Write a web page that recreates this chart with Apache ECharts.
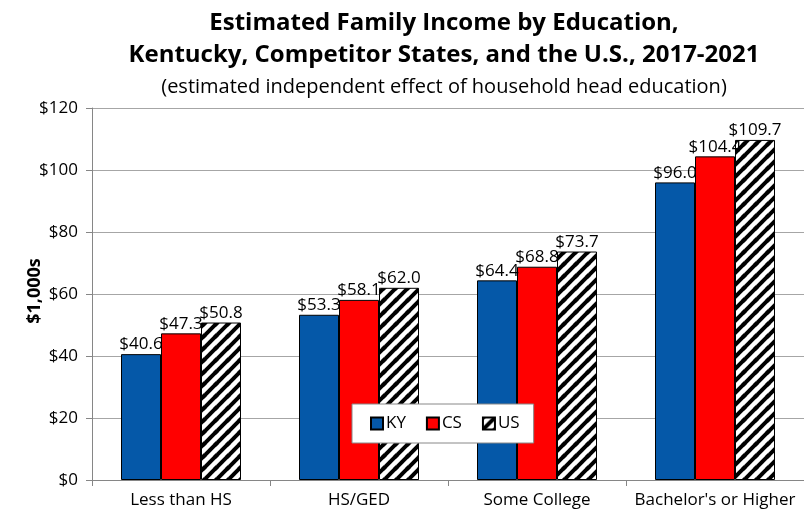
<!DOCTYPE html>
<html><head><meta charset="utf-8">
<script src="https://cdn.jsdelivr.net/npm/echarts@6/dist/echarts.min.js"></script>
<style>html,body{margin:0;padding:0;background:#fff}#c{width:804px;height:525px}</style>
</head><body><div id="c"></div>
<script>
var categories = ["Less than HS", "HS/GED", "Some College", "Bachelor's or Higher"];
var kyValues = [40.6, 53.3, 64.4, 96.0];
var csValues = [47.3, 58.1, 68.8, 104.4];
var usValues = [50.8, 62.0, 73.7, 109.7];
var seriesNames = ["KY", "CS", "US"];
var yTicks = [0, 20, 40, 60, 80, 100, 120];
var yAxisTitle = '$1,000s';

var pc = document.createElement('canvas');
pc.width = 12; pc.height = 12;
var ctx = pc.getContext('2d');
ctx.fillStyle = '#fff'; ctx.fillRect(0,0,12,12);
ctx.strokeStyle = '#000'; ctx.lineWidth = 4;
[[-12,12,12,-12],[0,12,12,0],[0,24,24,0],[-6,6,6,-6],[6,18,18,6]].forEach(function(l){
  ctx.beginPath(); ctx.moveTo(l[0], l[1]); ctx.lineTo(l[2], l[3]); ctx.stroke();
});
var hatch = {image: pc, repeat: 'repeat'};

var font = '"Open Sans", sans-serif';
var lbl = {show: true, position: 'top', distance: 1, color: '#000', fontSize: 17, fontFamily: font,
  formatter: function(p){ return '$' + p.value.toFixed(1); }};
function mk(name, data, color){
  return {name: name, type: 'bar', data: data, barWidth: 40, barGap: '0%',
    itemStyle: {color: color, borderColor: '#000', borderWidth: 1}, label: lbl};
}
var chart = echarts.init(document.getElementById('c'));
chart.setOption({
  animation: false,
  title: [
    {text: 'Estimated Family Income by Education,\nKentucky, Competitor States, and the U.S., 2017-2021',
     left: 439, top: 2, textAlign: 'center',
     textStyle: {fontSize: 24, fontWeight: 'bold', fontFamily: font, color: '#000', lineHeight: 32}},
    {text: '(estimated independent effect of household head education)', left: 439, top: 72, textAlign: 'center',
     textStyle: {fontSize: 20, fontWeight: 'normal', fontFamily: font, color: '#000'}}
  ],
  graphic: [{type: 'text', x: 35, y: 291, rotation: Math.PI / 2,
    style: {text: yAxisTitle, fontSize: 18, fontWeight: 'bold', fontFamily: font, fill: '#000',
      align: 'center', verticalAlign: 'middle'}}],
  legend: {data: seriesNames, left: 352, top: 404, width: 193, height: 42, padding: [11, 14, 11, 18],
    backgroundColor: '#fff', borderColor: '#888', borderWidth: 1, itemWidth: 12, itemHeight: 12, itemGap: 20,
    icon: 'rect', textStyle: {fontSize: 17, fontFamily: font, color: '#000', padding: [0,0,0,-2]}},
  grid: {left: 92, top: 108, width: 720, bottom: 45, containLabel: false},
  xAxis: {type: 'category', data: categories,
    axisLine: {lineStyle: {color: '#868686'}},
    axisTick: {show: true, length: 6, lineStyle: {color: '#868686'}},
    axisLabel: {fontSize: 17, fontFamily: font, color: '#000', margin: 12, interval: 0}},
  yAxis: {type: 'value', min: yTicks[0], max: yTicks[yTicks.length-1], interval: 20,
    axisLine: {show: true, lineStyle: {color: '#868686'}},
    axisTick: {show: true, length: 6, lineStyle: {color: '#868686'}},
    splitLine: {lineStyle: {color: '#a6a6a6'}},
    axisLabel: {fontSize: 17, fontFamily: font, color: '#000', margin: 14,
      formatter: function(v){ return '$' + v; }}},
  series: [mk(seriesNames[0], kyValues, '#0558a8'), mk(seriesNames[1], csValues, '#ff0000'), mk(seriesNames[2], usValues, hatch)]
});
</script></body></html>
